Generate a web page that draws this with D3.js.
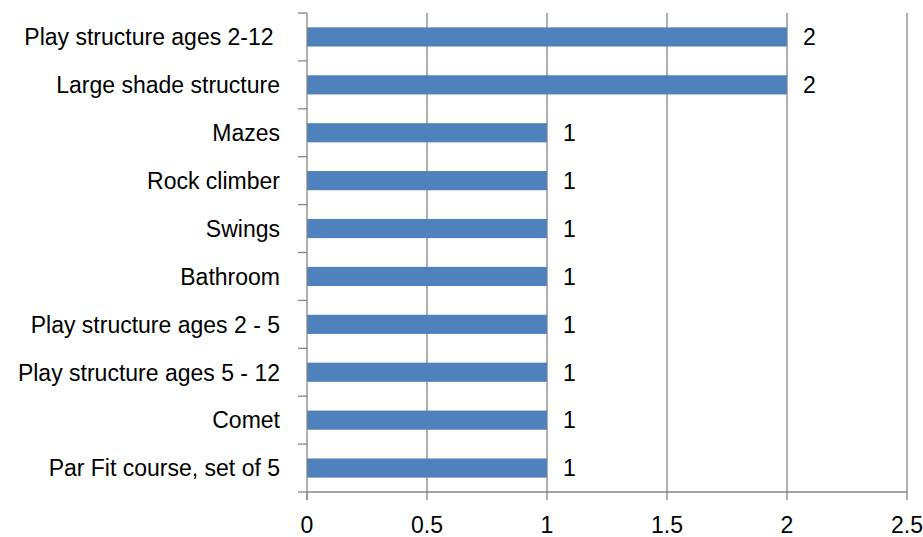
<!DOCTYPE html>
<html><head><meta charset="utf-8">
<script src="https://cdn.jsdelivr.net/npm/d3@7"></script>
<style>body{margin:0;background:#fff}svg{display:block}</style>
</head><body>
<script>
const categories = ["Play structure ages 2-12 ","Large shade structure","Mazes","Rock climber","Swings","Bathroom","Play structure ages 2 - 5","Play structure ages 5 - 12","Comet","Par Fit course, set of 5"];
const values = [2,2,1,1,1,1,1,1,1,1];
const xTicks = [0,0.5,1,1.5,2,2.5];

const W=923,H=537;
const m={left:307,right:16,top:13,bottom:45};
const svg=d3.select("body").append("svg").attr("width",W).attr("height",H);
const font="Liberation Sans, Arial, sans-serif";
const fs=23;
const x=d3.scaleLinear().domain([0,2.5]).range([m.left,W-m.right]);
const y=d3.scaleBand().domain(categories).range([m.top,H-m.bottom]).paddingInner(0.6).paddingOuter(0.3);
const grey="#868686";

// gridlines
svg.append("g").selectAll("line").data(xTicks.slice(1)).join("line")
  .attr("x1",d=>x(d)).attr("x2",d=>x(d)).attr("y1",m.top).attr("y2",H-m.bottom)
  .attr("stroke",grey).attr("stroke-width",1.3);

// bars
svg.append("g").selectAll("rect").data(categories).join("rect")
  .attr("x",x(0)).attr("y",d=>y(d)).attr("height",y.bandwidth())
  .attr("width",(d,i)=>x(values[i])-x(0)).attr("fill","#4F81BD");

// value labels
svg.append("g").selectAll("text").data(categories).join("text")
  .attr("x",(d,i)=>x(values[i])+16).attr("y",d=>y(d)+y.bandwidth()/2)
  .attr("dy","0.36em").attr("font-family",font).attr("font-size",fs)
  .text((d,i)=>values[i]);

// y axis
const yStep = (H-m.bottom-m.top)/categories.length;
const ya=svg.append("g");
ya.append("line").attr("x1",m.left).attr("x2",m.left).attr("y1",m.top).attr("y2",H-m.bottom+8).attr("stroke",grey).attr("stroke-width",1.3);
ya.selectAll("line.t").data(d3.range(categories.length+1)).join("line").attr("class","t")
  .attr("x1",m.left-9).attr("x2",m.left).attr("y1",d=>m.top+d*yStep).attr("y2",d=>m.top+d*yStep)
  .attr("stroke",grey).attr("stroke-width",1.3);
ya.selectAll("text").data(categories).join("text")
  .attr("x",m.left-27).attr("y",d=>y(d)+y.bandwidth()/2).attr("dy","0.36em")
  .attr("text-anchor","end").attr("font-family",font).attr("font-size",fs).attr("fill","#000")
  .attr("xml:space","preserve").style("white-space","pre")
  .text(d=>d);

// x axis
const xa=svg.append("g");
xa.append("line").attr("x1",m.left).attr("x2",W-m.right).attr("y1",H-m.bottom).attr("y2",H-m.bottom).attr("stroke",grey).attr("stroke-width",1.3);
xa.selectAll("line.t").data(xTicks).join("line").attr("class","t")
  .attr("x1",d=>x(d)).attr("x2",d=>x(d)).attr("y1",H-m.bottom).attr("y2",H-m.bottom+8)
  .attr("stroke",grey).attr("stroke-width",1.3);
xa.selectAll("text").data(xTicks).join("text")
  .attr("x",d=>x(d)).attr("y",H-m.bottom+41).attr("text-anchor","middle")
  .attr("font-family",font).attr("font-size",fs).text(d=>d);
</script>
</body></html>
